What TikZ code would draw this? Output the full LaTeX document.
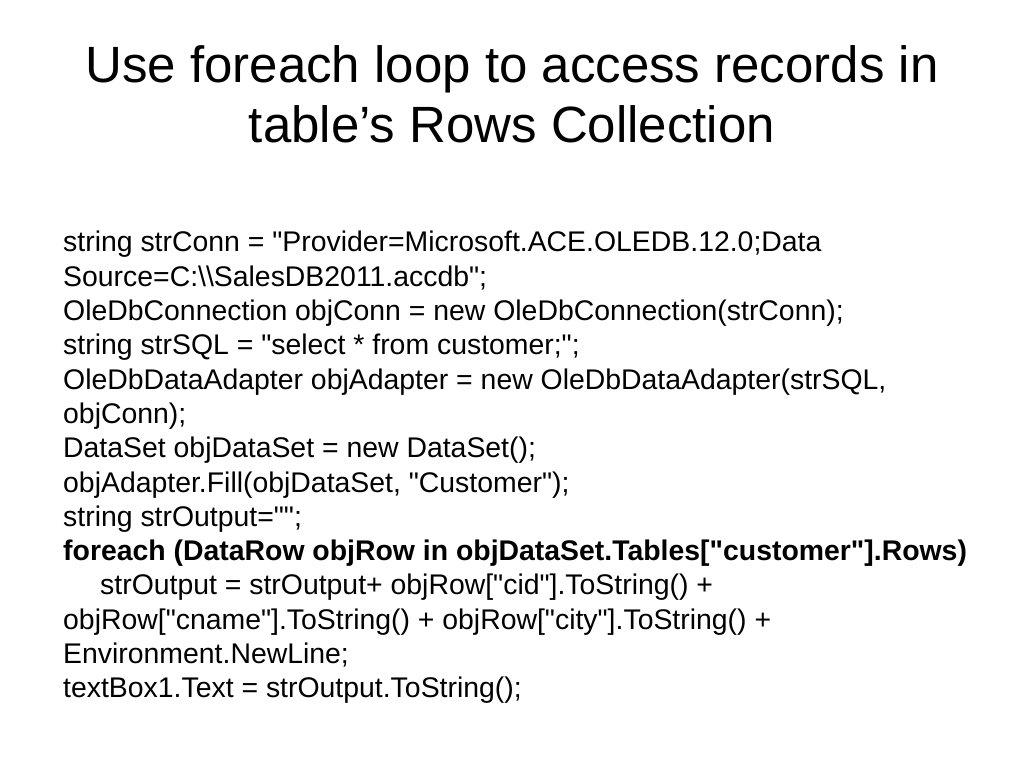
\documentclass[tikz,border=0pt]{standalone}
\usepackage{fontspec}
\newfontfamily\slidefont{Liberation Sans}
\usetikzlibrary{positioning}

\begin{document}
\begin{tikzpicture}[
    x=1pt, y=1pt,
    title/.style={anchor=base, inner sep=0pt,
                  font=\slidefont\fontsize{51}{61}\selectfont},
    code/.style={anchor=base west, inner sep=0pt,
                 font=\slidefont\fontsize{28.4}{34}\selectfont}
]
\useasboundingbox (0,0) rectangle (1024,768);

% title
\node[title] (t1) at (512,685) {Use foreach loop to access records in};
\node[title] (t2) at ([yshift=-60]t1.base) {table’s Rows Collection};

% code lines
\node[code] (l1) at (63,516) {string strConn = "Provider=Microsoft.ACE.OLEDB.12.0;Data};
\node[code] (l2) at ([yshift=-34.3]l1.base west) {Source=C:\textbackslash\textbackslash SalesDB2011.accdb";};
\node[code] (l3) at ([yshift=-34.3]l2.base west) {OleDbConnection objConn = new OleDbConnection(strConn);};
\node[code] (l4) at ([yshift=-34.3]l3.base west) {string strSQL = "select * from customer;";};
\node[code] (l5) at ([yshift=-34.3]l4.base west) {OleDbDataAdapter objAdapter = new OleDbDataAdapter(strSQL,};
\node[code] (l6) at ([yshift=-34.3]l5.base west) {objConn);};
\node[code] (l7) at ([yshift=-34.3]l6.base west) {DataSet objDataSet = new DataSet();};
\node[code] (l8) at ([yshift=-34.3]l7.base west) {objAdapter.Fill(objDataSet, "Customer");};
\node[code] (l9) at ([yshift=-34.3]l8.base west) {string strOutput="";};
\node[code] (l10) at ([yshift=-34.3]l9.base west) {\bfseries foreach (DataRow objRow in objDataSet.Tables["customer"].Rows)};
\node[code] (l11) at ([xshift=37,yshift=-34.3]l10.base west) {strOutput = strOutput+ objRow["cid"].ToString() +};
\node[code] (l12) at ([xshift=-37,yshift=-34.3]l11.base west) {objRow["cname"].ToString() + objRow["city"].ToString() +};
\node[code] (l13) at ([yshift=-34.3]l12.base west) {Environment.NewLine;};
\node[code] (l14) at ([yshift=-34.3]l13.base west) {textBox1.Text = strOutput.ToString();};

\end{tikzpicture}
\end{document}
